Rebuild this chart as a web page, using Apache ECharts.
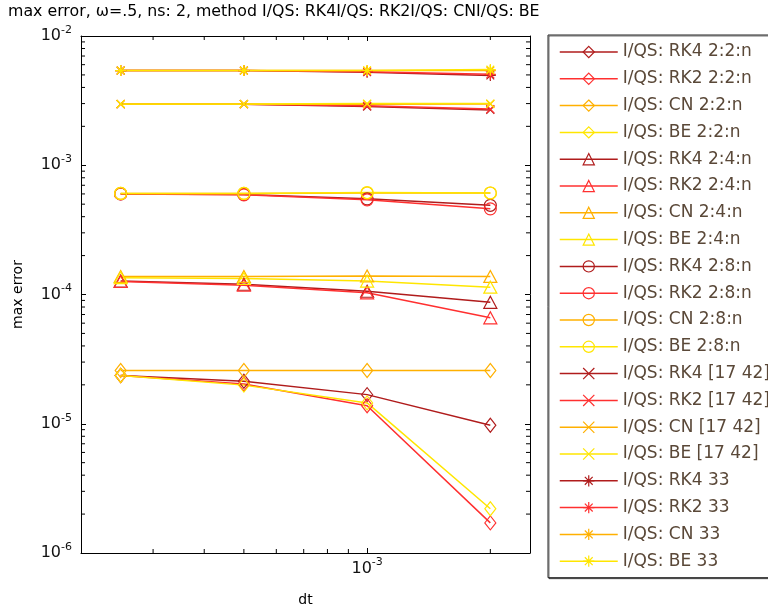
<!DOCTYPE html>
<html><head><meta charset="utf-8">
<script src="https://cdn.jsdelivr.net/npm/echarts@6/dist/echarts.min.js"></script>
<style>html,body{margin:0;padding:0;background:#fff}#c{width:768px;height:612px}</style>
</head><body><div id="c"></div>
<script>
// ---- data ----
const dt = [2.5e-4, 5e-4, 1e-3, 2e-3];
const methods = ['RK4', 'RK2', 'CN', 'BE'];
const groups = ['2:2:n', '2:4:n', '2:8:n', '[17 42]', '33'];

const diam_RK4 = [2.36e-5, 2.13e-5, 1.68e-5, 9.75e-6];
const diam_RK2 = [2.36e-5, 2.03e-5, 1.38e-5, 1.71e-6];
const diam_CN  = [2.58e-5, 2.58e-5, 2.58e-5, 2.58e-5];
const diam_BE  = [2.36e-5, 1.99e-5, 1.45e-5, 2.2e-6];

const tri_RK4 = [1.27e-4, 1.20e-4, 1.06e-4, 8.7e-5];
const tri_RK2 = [1.26e-4, 1.18e-4, 1.03e-4, 6.6e-5];
const tri_CN  = [1.38e-4, 1.38e-4, 1.39e-4, 1.38e-4];
const tri_BE  = [1.35e-4, 1.33e-4, 1.27e-4, 1.14e-4];

const circ_RK4 = [6.0e-4, 5.95e-4, 5.5e-4, 4.9e-4];
const circ_RK2 = [6.0e-4, 5.9e-4, 5.4e-4, 4.6e-4];
const circ_CN  = [6.05e-4, 6.05e-4, 6.1e-4, 6.1e-4];
const circ_BE  = [6.05e-4, 6.05e-4, 6.15e-4, 6.1e-4];

const x_RK4 = [2.97e-3, 2.97e-3, 2.85e-3, 2.68e-3];
const x_RK2 = [2.97e-3, 2.97e-3, 2.88e-3, 2.72e-3];
const x_CN  = [2.97e-3, 2.97e-3, 2.97e-3, 2.98e-3];
const x_BE  = [2.98e-3, 2.98e-3, 3.0e-3, 3.0e-3];

const star_RK4 = [5.4e-3, 5.4e-3, 5.25e-3, 4.95e-3];
const star_RK2 = [5.4e-3, 5.4e-3, 5.3e-3, 5.05e-3];
const star_CN  = [5.4e-3, 5.4e-3, 5.4e-3, 5.4e-3];
const star_BE  = [5.4e-3, 5.4e-3, 5.42e-3, 5.5e-3];

const xMin = 2e-4, xMax = 2.5e-3, yMin = 1e-6, yMax = 1e-2;
const xMinorTicks = [3e-4, 4e-4, 5e-4, 6e-4, 7e-4, 8e-4, 9e-4, 2e-3];
const yMinorTicks = [2e-6,3e-6,4e-6,5e-6,6e-6,7e-6,8e-6,9e-6,
                     2e-5,3e-5,4e-5,5e-5,6e-5,7e-5,8e-5,9e-5,
                     2e-4,3e-4,4e-4,5e-4,6e-4,7e-4,8e-4,9e-4,
                     2e-3,3e-3,4e-3,5e-3,6e-3,7e-3,8e-3,9e-3];

const titleText = 'max error, \u03c9=.5, ns: 2, method I/QS: RK4I/QS: RK2I/QS: CNI/QS: BE';

// ---- styles ----
const colors = ['#b01c1c', '#ff3030', '#ffb000', '#ffe600'];
const symbols = [
  { s: 'path://M5 0L10 7L5 14L0 7Z', size: [11, 14] },
  { s: 'path://M6 0L12 11L0 11Z', size: [13, 12] },
  { s: 'circle', size: 12 },
  { s: 'path://M0 0L8 8M8 0L0 8', size: 8 },
  { s: 'path://M5 0L5 10M0 5L10 5M1.5 1.5L8.5 8.5M8.5 1.5L1.5 8.5', size: 11 }
];
const dataSets = [
  [diam_RK4, diam_RK2, diam_CN, diam_BE],
  [tri_RK4, tri_RK2, tri_CN, tri_BE],
  [circ_RK4, circ_RK2, circ_CN, circ_BE],
  [x_RK4, x_RK2, x_CN, x_BE],
  [star_RK4, star_RK2, star_CN, star_BE]
];

const series = [];
const legendNames = [];
groups.forEach((g, gi) => {
  methods.forEach((m, mi) => {
    const name = 'I/QS: ' + m + ' ' + g;
    legendNames.push(name);
    series.push({
      type: 'line', name: name,
      xAxisIndex: 0, yAxisIndex: 0,
      data: dt.map((d, i) => [d, dataSets[gi][mi][i]]),
      symbol: symbols[gi].s, symbolSize: symbols[gi].size,
      showAllSymbol: true,
      lineStyle: { color: colors[mi], width: 1.5 },
      itemStyle: { color: 'rgba(0,0,0,0)', borderColor: colors[mi], borderWidth: 1.2 },
      emphasis: { disabled: true },
      z: 2
    });
  });
});

function isPow10(v) {
  const l = Math.log10(v);
  return Math.abs(l - Math.round(l)) < 1e-6;
}
const labelRich = {
  b: { fontFamily: 'DejaVu Sans', fontSize: 16, color: '#111' },
  s: { fontFamily: 'DejaVu Sans', fontSize: 11, color: '#111', padding: [0, 0, 12, 0] }
};
function fmt(v) {
  if (!isPow10(v)) return '';
  return '{b|10}{s|' + Math.round(Math.log10(v)) + '}';
}
const axisCommon = {
  type: 'log', logBase: 10,
  axisLine: { show: true, lineStyle: { color: '#000', width: 1 } },
  axisTick: { show: true, inside: true, length: 5, lineStyle: { color: '#000' } },
  splitLine: { show: false },
  minorTick: { show: false },
  minorSplitLine: { show: false }
};

const option = {
  animation: false,
  backgroundColor: '#fff',
  title: {
    text: titleText, left: 8, top: 4, padding: 0,
    textStyle: { fontFamily: 'DejaVu Sans', fontSize: 15.8, fontWeight: 'normal', color: '#000' }
  },
  grid: { left: 81, right: 238, top: 36, bottom: 59, containLabel: false },
  legend: {
    data: legendNames, orient: 'vertical', left: 548, top: 35,
    itemWidth: 58, itemHeight: 14, itemGap: 9.8,
    padding: [8.5, 40, 8, 11],
    backgroundColor: '#fff', borderColor: '#222', borderWidth: 1,
    shadowColor: 'rgba(0,0,0,0.55)', shadowOffsetX: 1, shadowOffsetY: 1, shadowBlur: 0,
    selectedMode: false,
    itemStyle: { borderWidth: 1.2 },
    lineStyle: { width: 1.5 },
    textStyle: { fontFamily: 'DejaVu Sans', fontSize: 17, color: '#5a4838' }
  },
  xAxis: [
    Object.assign({}, axisCommon, {
      min: xMin, max: xMax, position: 'bottom',
      name: 'dt', nameLocation: 'middle', nameGap: 40,
      nameTextStyle: { fontFamily: 'DejaVu Sans', fontSize: 14, color: '#000' },
      axisLabel: { show: true, margin: 4, formatter: fmt, rich: labelRich }
    }),
    Object.assign({}, axisCommon, {
      min: xMin, max: xMax, position: 'top', axisLabel: { show: false }
    })
  ],
  yAxis: [
    Object.assign({}, axisCommon, {
      min: yMin, max: yMax, position: 'left',
      name: 'max error', nameLocation: 'middle', nameGap: 56,
      nameTextStyle: { fontFamily: 'DejaVu Sans', fontSize: 14, color: '#000' },
      axisLabel: { show: true, margin: 9, formatter: fmt, rich: labelRich }
    }),
    Object.assign({}, axisCommon, {
      min: yMin, max: yMax, position: 'right', axisLabel: { show: false }
    })
  ],
  series: series
};

const chart = echarts.init(document.getElementById('c'), null, { renderer: 'canvas' });
try { chart.setOption(option); } catch (e) {}

// minor ticks placed through the axes' own scales
try {
  const TL = 4;
  const tickEls = [];
  const px = v => chart.convertToPixel({ seriesIndex: 0 }, v);
  const c0 = px([xMin, yMin]);
  const c1 = px([xMax, yMax]);
  xMinorTicks.forEach(v => {
    const p = px([v, yMin]);
    tickEls.push({ type: 'line', silent: true, z: 50, shape: { x1: p[0], y1: c0[1], x2: p[0], y2: c0[1] - TL }, style: { stroke: '#000', lineWidth: 1 } });
    tickEls.push({ type: 'line', silent: true, z: 50, shape: { x1: p[0], y1: c1[1], x2: p[0], y2: c1[1] + TL }, style: { stroke: '#000', lineWidth: 1 } });
  });
  yMinorTicks.forEach(v => {
    const p = px([xMin, v]);
    tickEls.push({ type: 'line', silent: true, z: 50, shape: { x1: c0[0], y1: p[1], x2: c0[0] + TL, y2: p[1] }, style: { stroke: '#000', lineWidth: 1 } });
    tickEls.push({ type: 'line', silent: true, z: 50, shape: { x1: c1[0], y1: p[1], x2: c1[0] - TL, y2: p[1] }, style: { stroke: '#000', lineWidth: 1 } });
  });
  chart.setOption({ graphic: { elements: tickEls } });
} catch (e) {}
</script></body></html>
